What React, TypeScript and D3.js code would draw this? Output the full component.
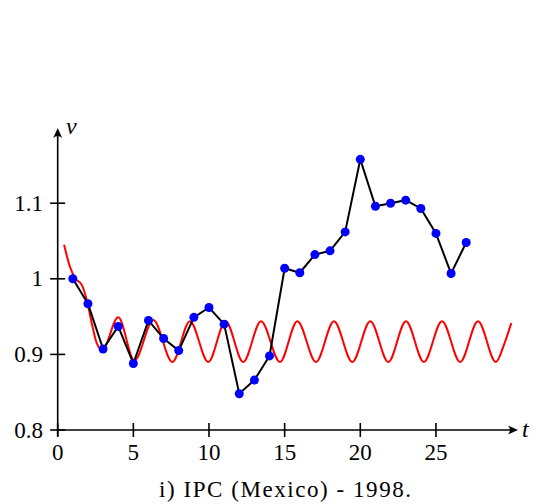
import React from "react";
import * as d3 from "d3";

const periods = [1, 2, 3, 4, 5, 6, 7, 8, 9, 10, 11, 12, 13, 14, 15, 16, 17, 18, 19, 20, 21, 22, 23, 24, 25, 26, 27];
const values = [
  1.0, 0.967, 0.907, 0.937, 0.888, 0.945, 0.921, 0.905, 0.949, 0.962, 0.94, 0.848, 0.866, 0.898,
  1.014, 1.008, 1.032, 1.037, 1.062, 1.158, 1.096, 1.1, 1.104, 1.093, 1.06, 1.007, 1.048,
];

const fitT = [
  0.42, 0.81, 1.18, 1.59, 1.92, 2.25, 2.58, 2.95, 4.0, 5.07, 6.32, 7.58, 8.74, 9.95, 11.1, 12.26,
  13.44, 14.69, 15.84, 17.07, 18.26, 19.47, 20.66, 21.85, 23.02, 24.2, 25.4, 26.6, 27.78, 28.96,
  29.5, 29.98,
];
const fitV = [
  1.045, 1.016, 1.0, 0.992, 0.972, 0.9415, 0.915, 0.906, 0.949, 0.892, 0.9455, 0.89, 0.944, 0.89,
  0.944, 0.89, 0.944, 0.89, 0.944, 0.89, 0.944, 0.89, 0.944, 0.89, 0.944, 0.89, 0.944, 0.89, 0.944,
  0.89, 0.913, 0.9415,
];

const xTicks = [0, 5, 10, 15, 20, 25];
const yTicks = [0.8, 0.9, 1.0, 1.1];
const yTickLabels = ["0.8", "0.9", "1", "1.1"];
const xLabel = "t";
const yLabel = "v";
const title = "i) IPC (Mexico) - 1998.";

export default function App() {
  const x = d3.scaleLinear().domain([0, 30]).range([57.7, 511.6]);
  const y = d3.scaleLinear().domain([0.8, 1.2]).range([430, 127.6]);

  const dataLine = d3
    .line<number>()
    .x((_, i) => x(periods[i]))
    .y((d) => y(d));
  const fitLine = d3
    .line<number>()
    .x((_, i) => x(fitT[i]))
    .y((d) => y(d))
    .curve(d3.curveMonotoneX);

  const x0 = x(0);
  const y0 = y(0.8);
  const xTip = 518;
  const yTip = 128;

  const arrowRight = (tx: number, ty: number) =>
    `M${tx},${ty} L${tx - 10},${ty - 4.5} Q${tx - 6},${ty} ${tx - 10},${ty + 4.5} Z`;
  const arrowUp = (tx: number, ty: number) =>
    `M${tx},${ty} L${tx - 4.5},${ty + 10} Q${tx},${ty + 6} ${tx + 4.5},${ty + 10} Z`;

  return (
    <svg width={536} height={504} style={{ position: "absolute", left: 0, top: 0 }}>
      <rect width={536} height={504} fill="#fff" />
      {/* axes */}
      <line x1={x0} y1={y0 + 6} x2={x0} y2={yTip + 6} stroke="#000" strokeWidth={1.6} />
      <path d={arrowUp(x0, yTip)} fill="#000" />
      <line x1={x0} y1={y0} x2={xTip - 6} y2={y0} stroke="#000" strokeWidth={1.6} />
      <path d={arrowRight(xTip, y0)} fill="#000" />

      {yTicks.map((t) => (
        <line key={"yt" + t} x1={x0 - 7.5} x2={x0 + 7.5} y1={y(t)} y2={y(t)} stroke="#000" strokeWidth={1.6} />
      ))}
      {xTicks.map((t) => (
        <line key={"xt" + t} x1={x(t)} x2={x(t)} y1={y0 - 7} y2={y0 + 7} stroke="#000" strokeWidth={1.6} />
      ))}

      {/* fitted curve */}
      <path d={fitLine(fitV) || ""} fill="none" stroke="#ff0000" strokeWidth={2} />
      {/* data */}
      <path d={dataLine(values) || ""} fill="none" stroke="#000" strokeWidth={2} />
      {values.map((v, i) => (
        <circle key={i} cx={x(periods[i])} cy={y(v)} r={4.5} fill="#0000ff" />
      ))}

      {yTicks.map((t, i) => (
        <text
          key={"yl" + t}
          x={43}
          y={y(t) + 7.5}
          fontSize={23}
          style={{ fontFamily: "Liberation Serif", textAnchor: "end" }}
        >
          {yTickLabels[i]}
        </text>
      ))}
      {xTicks.map((t) => (
        <text
          key={"xl" + t}
          x={x(t)}
          y={460}
          fontSize={23}
          style={{ fontFamily: "Liberation Serif", textAnchor: "middle" }}
        >
          {String(t)}
        </text>
      ))}
      <text x={66} y={134} fontSize={24} style={{ fontFamily: "Liberation Serif", fontStyle: "italic" }}>
        {yLabel}
      </text>
      <text x={522} y={437} fontSize={24} style={{ fontFamily: "Liberation Serif", fontStyle: "italic" }}>
        {xLabel}
      </text>
      <text
        x={285}
        y={497}
        fontSize={23}
        textLength={252}
        lengthAdjust="spacing"
        style={{ fontFamily: "Liberation Serif", textAnchor: "middle" }}
      >
        {title}
      </text>
    </svg>
  );
}
